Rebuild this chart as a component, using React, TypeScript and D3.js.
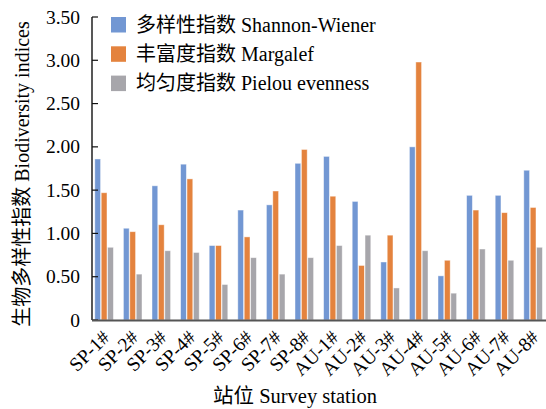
import { useEffect, useRef } from 'react';
import * as d3 from 'd3';

const stations = ['SP-1#', 'SP-2#', 'SP-3#', 'SP-4#', 'SP-5#', 'SP-6#', 'SP-7#', 'SP-8#',
  'AU-1#', 'AU-2#', 'AU-3#', 'AU-4#', 'AU-5#', 'AU-6#', 'AU-7#', 'AU-8#'];
const shannon = [1.86, 1.06, 1.55, 1.80, 0.86, 1.27, 1.33, 1.81, 1.89, 1.37, 0.67, 2.00, 0.51, 1.44, 1.44, 1.73];
const margalef = [1.47, 1.02, 1.10, 1.63, 0.86, 0.96, 1.49, 1.97, 1.43, 0.63, 0.98, 2.98, 0.69, 1.27, 1.24, 1.30];
const pielou = [0.84, 0.53, 0.80, 0.78, 0.41, 0.72, 0.53, 0.72, 0.86, 0.98, 0.37, 0.80, 0.31, 0.82, 0.69, 0.84];
// [chinese, latin] pairs
const seriesNames = [
  ['多样性指数', 'Shannon-Wiener'],
  ['丰富度指数', 'Margalef'],
  ['均匀度指数', 'Pielou evenness'],
];
const colors = ['#7297d3', '#e4833e', '#a7a6ab'];
const yTicks = [0, 0.5, 1.0, 1.5, 2.0, 2.5, 3.0, 3.5];

const W = 546;
const H = 409;
const SERIF = '"Liberation Serif", "Times New Roman", serif';
const CJK = '"Noto Sans CJK SC", sans-serif';

// text with a chinese part and a latin part, each in its own font
function mixedText(sel: any, zh: string, en: string) {
  sel.append('tspan').attr('font-family', CJK).text(zh);
  sel.append('tspan').attr('font-family', SERIF).text(' ' + en);
}

export default function App() {
  const svgRef = useRef<SVGSVGElement>(null);

  useEffect(() => {
    const svg = d3.select(svgRef.current);
    svg.selectAll('*').remove();

    const axisX = 92;
    const baseY = 320;

    const x = d3.scaleBand().domain(stations).range([89.8, 547.4]);
    const inner = d3.scaleBand().domain(['0', '1', '2']).range([-9.3, 9.3]).paddingInner(0.1);
    const y = d3.scaleLinear().domain([0, 3.5]).range([baseY, 17]);

    const series = [shannon, margalef, pielou];

    // bars
    series.forEach((vals, si) => {
      svg.append('g')
        .selectAll('rect')
        .data(vals)
        .join('rect')
        .attr('x', (d, i) => x(stations[i])! + x.bandwidth() / 2 + inner(String(si))!)
        .attr('y', d => y(d))
        .attr('width', inner.bandwidth())
        .attr('height', d => baseY - y(d))
        .attr('fill', colors[si])
        .attr('stroke', 'rgba(255,255,255,0.55)')
        .attr('stroke-width', 0.8);
    });

    // y axis
    svg.append('line')
      .attr('x1', axisX).attr('x2', axisX)
      .attr('y1', y(3.5)).attr('y2', baseY)
      .attr('stroke', '#111').attr('stroke-width', 1.4);

    svg.append('g')
      .selectAll('line')
      .data(yTicks)
      .join('line')
      .attr('x1', axisX).attr('x2', axisX + 6)
      .attr('y1', d => y(d)).attr('y2', d => y(d))
      .attr('stroke', '#111').attr('stroke-width', 1.2);

    svg.append('g')
      .selectAll('text')
      .data(yTicks)
      .join('text')
      .attr('x', 80)
      .attr('y', d => y(d) + 6.5)
      .attr('text-anchor', 'end')
      .attr('font-family', SERIF)
      .attr('font-size', 19.5)
      .attr('fill', '#000')
      .text(d => (d === 0 ? '0' : d.toFixed(2)));

    // x axis
    svg.append('line')
      .attr('x1', axisX).attr('x2', W)
      .attr('y1', baseY + 0.5).attr('y2', baseY + 0.5)
      .attr('stroke', '#555').attr('stroke-width', 2);

    svg.append('g')
      .selectAll('text')
      .data(stations)
      .join('text')
      .attr('transform', d => `translate(${x(d)! + x.bandwidth() / 2 - 3},${baseY + 9}) rotate(-45)`)
      .attr('text-anchor', 'end')
      .attr('dy', '0.7em')
      .attr('font-family', SERIF)
      .attr('font-size', 19.5)
      .attr('fill', '#000')
      .text(d => d);

    // axis titles
    const xTitle = svg.append('text')
      .attr('x', 295)
      .attr('y', 403)
      .attr('text-anchor', 'middle')
      .attr('font-size', 20.5);
    mixedText(xTitle, '站位', 'Survey station');

    const yTitle = svg.append('text')
      .attr('transform', `translate(29,174) rotate(-90)`)
      .attr('text-anchor', 'middle')
      .attr('font-size', 20);
    mixedText(yTitle, '生物多样性指数', 'Biodiversity indices');

    // legend
    const legend = svg.append('g');
    seriesNames.forEach(([zh, en], i) => {
      const ly = 17 + i * 29.3;
      legend.append('rect')
        .attr('x', 111).attr('y', ly)
        .attr('width', 15).attr('height', 15.5)
        .attr('fill', colors[i]);
      const t = legend.append('text')
        .attr('x', 136).attr('y', ly + 14.5)
        .attr('font-size', 20);
      mixedText(t, zh, en);
    });
  }, []);

  return (
    <svg
      ref={svgRef}
      width={W}
      height={H}
      style={{ position: 'absolute', left: 0, top: 0, background: '#fff' }}
    />
  );
}
